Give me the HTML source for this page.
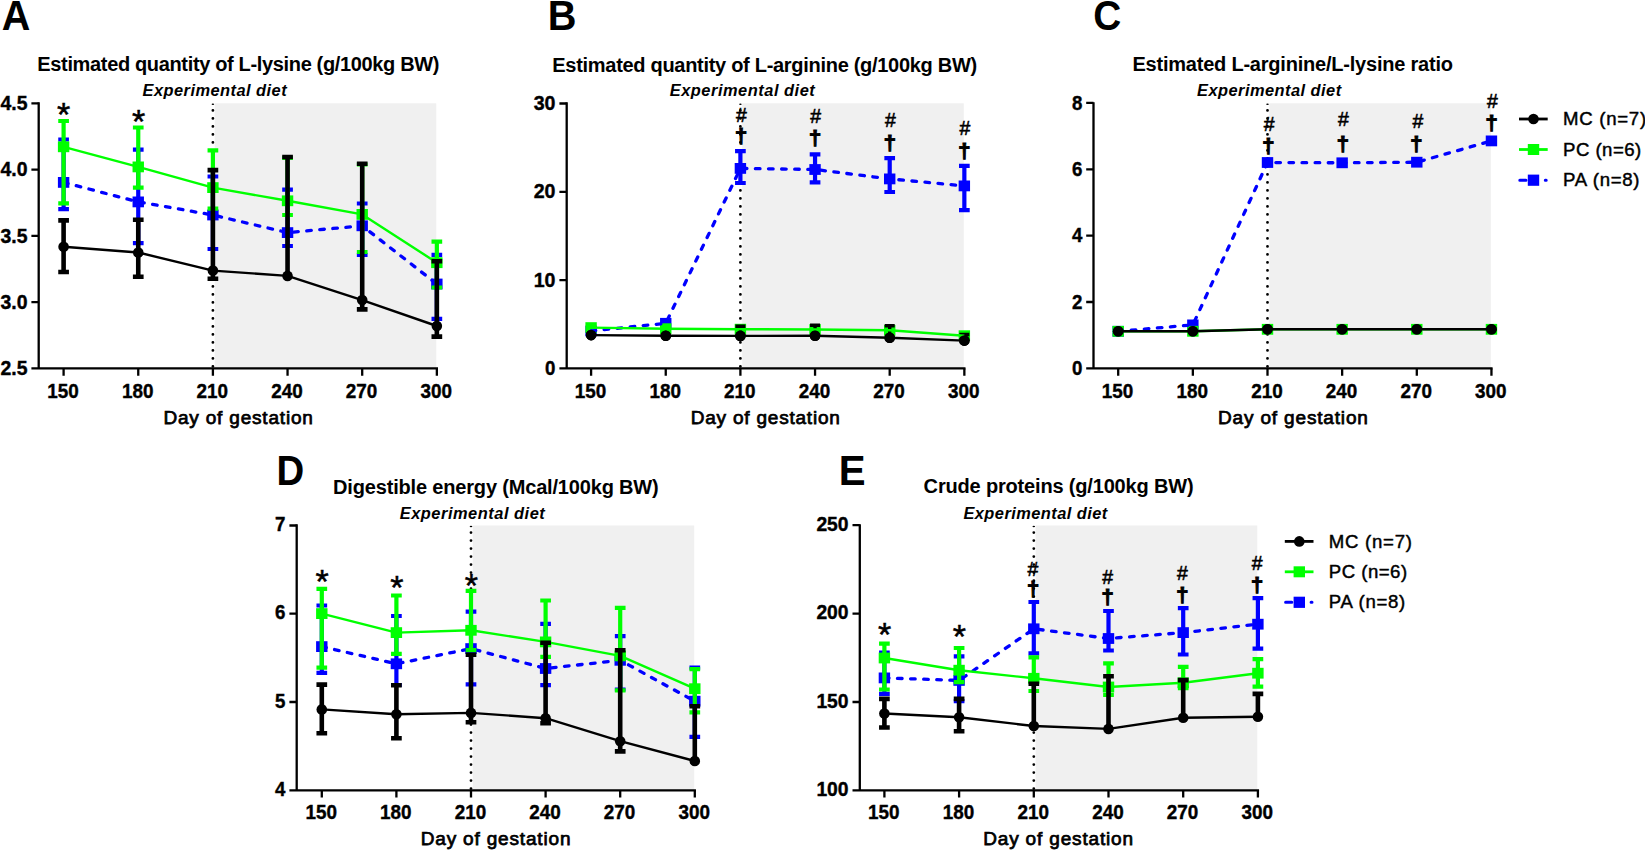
<!DOCTYPE html>
<html lang="en"><head><meta charset="utf-8"><title>Figure</title>
<style>
html,body{margin:0;padding:0;background:#fff;}
body{width:1645px;height:850px;overflow:hidden;}
svg{display:block;font-family:"Liberation Sans", Arial, Helvetica, sans-serif;}
</style></head><body>
<svg width="1645" height="850" viewBox="0 0 1645 850">
<rect width="1645" height="850" fill="#ffffff"/>
<rect x="214.70" y="103.30" width="221.55" height="265.10" fill="#f0f0f0"/>
<path d="M212.90 110.40V368.40" stroke="#000" stroke-width="2.8" stroke-dasharray="0.01 7.99" stroke-linecap="round" fill="none"/>
<ellipse cx="212.90" cy="104.30" rx="1.3" ry="0.8" fill="#000"/>
<text x="1.75" y="29.90" font-size="42" font-weight="bold" textLength="28.60" lengthAdjust="spacingAndGlyphs">A</text>
<text x="37.30" y="71.20" font-size="20" font-weight="bold" textLength="402.20" lengthAdjust="spacing">Estimated quantity of L-lysine (g/100kg BW)</text>
<text x="142.50" y="96.30" font-size="16.4" font-weight="bold" font-style="italic" textLength="144.10" lengthAdjust="spacing">Experimental diet</text>
<text x="163.40" y="423.60" font-size="19" font-weight="normal" textLength="149.50" lengthAdjust="spacing" stroke="#000" stroke-width="0.75">Day of gestation</text>
<polyline points="63.60,182.40 138.25,201.90 212.90,215.00 287.55,232.60 362.20,225.80 436.85,284.00" stroke="#0000ff" stroke-width="3.3" stroke-dasharray="4.6 8.5" stroke-linecap="round" stroke-linejoin="round" fill="none"/>
<path d="M63.60 139.50V209.20M58.25 139.50H68.95M58.25 209.20H68.95" stroke="#0000ff" stroke-width="4.2" fill="none"/>
<path d="M138.25 149.70V243.20M132.90 149.70H143.60M132.90 243.20H143.60" stroke="#0000ff" stroke-width="4.2" fill="none"/>
<path d="M212.90 176.50V249.00M207.55 176.50H218.25M207.55 249.00H218.25" stroke="#0000ff" stroke-width="4.2" fill="none"/>
<path d="M287.55 189.60V246.00M282.20 189.60H292.90M282.20 246.00H292.90" stroke="#0000ff" stroke-width="4.2" fill="none"/>
<path d="M362.20 203.50V255.00M356.85 203.50H367.55M356.85 255.00H367.55" stroke="#0000ff" stroke-width="4.2" fill="none"/>
<path d="M436.85 254.90V318.80M431.50 254.90H442.20M431.50 318.80H442.20" stroke="#0000ff" stroke-width="4.2" fill="none"/>
<rect x="57.90" y="177.00" width="11.4" height="10.8" fill="#0000ff"/>
<rect x="132.55" y="196.50" width="11.4" height="10.8" fill="#0000ff"/>
<rect x="207.20" y="209.60" width="11.4" height="10.8" fill="#0000ff"/>
<rect x="281.85" y="227.20" width="11.4" height="10.8" fill="#0000ff"/>
<rect x="356.50" y="220.40" width="11.4" height="10.8" fill="#0000ff"/>
<rect x="431.15" y="278.60" width="11.4" height="10.8" fill="#0000ff"/>
<polyline points="63.60,146.80 138.25,166.90 212.90,187.60 287.55,200.80 362.20,214.40 436.85,262.70" stroke="#00ff00" stroke-width="2.4" stroke-linejoin="round" fill="none"/>
<path d="M63.60 121.00V203.40M58.25 121.00H68.95M58.25 203.40H68.95" stroke="#00ff00" stroke-width="4.2" fill="none"/>
<path d="M138.25 127.50V187.60M132.90 127.50H143.60M132.90 187.60H143.60" stroke="#00ff00" stroke-width="4.2" fill="none"/>
<path d="M212.90 150.30V208.60M207.55 150.30H218.25M207.55 208.60H218.25" stroke="#00ff00" stroke-width="4.2" fill="none"/>
<path d="M287.55 158.00V215.00M282.20 158.00H292.90M282.20 215.00H292.90" stroke="#00ff00" stroke-width="4.2" fill="none"/>
<path d="M362.20 164.50V252.00M356.85 164.50H367.55M356.85 252.00H367.55" stroke="#00ff00" stroke-width="4.2" fill="none"/>
<path d="M436.85 241.70V287.50M431.50 241.70H442.20M431.50 287.50H442.20" stroke="#00ff00" stroke-width="4.2" fill="none"/>
<rect x="57.90" y="141.40" width="11.4" height="10.8" fill="#00ff00"/>
<rect x="132.55" y="161.50" width="11.4" height="10.8" fill="#00ff00"/>
<rect x="207.20" y="182.20" width="11.4" height="10.8" fill="#00ff00"/>
<rect x="281.85" y="195.40" width="11.4" height="10.8" fill="#00ff00"/>
<rect x="356.50" y="209.00" width="11.4" height="10.8" fill="#00ff00"/>
<rect x="431.15" y="257.30" width="11.4" height="10.8" fill="#00ff00"/>
<polyline points="63.60,246.70 138.25,252.50 212.90,270.60 287.55,275.90 362.20,300.10 436.85,326.00" stroke="#000000" stroke-width="2.4" stroke-linejoin="round" fill="none"/>
<path d="M63.60 220.40V272.00M58.25 220.40H68.95M58.25 272.00H68.95" stroke="#000000" stroke-width="4.6" fill="none"/>
<path d="M138.25 219.80V276.70M132.90 219.80H143.60M132.90 276.70H143.60" stroke="#000000" stroke-width="4.6" fill="none"/>
<path d="M212.90 170.10V278.80M207.55 170.10H218.25M207.55 278.80H218.25" stroke="#000000" stroke-width="4.6" fill="none"/>
<path d="M287.55 157.00V275.90M282.20 157.00H292.90" stroke="#000000" stroke-width="4.6" fill="none"/>
<path d="M362.20 163.70V309.40M356.85 163.70H367.55M356.85 309.40H367.55" stroke="#000000" stroke-width="4.6" fill="none"/>
<path d="M436.85 261.30V336.60M431.50 261.30H442.20M431.50 336.60H442.20" stroke="#000000" stroke-width="4.6" fill="none"/>
<circle cx="63.60" cy="246.70" r="5.3" fill="#000000"/>
<circle cx="138.25" cy="252.50" r="5.3" fill="#000000"/>
<circle cx="212.90" cy="270.60" r="5.3" fill="#000000"/>
<circle cx="287.55" cy="275.90" r="5.3" fill="#000000"/>
<circle cx="362.20" cy="300.10" r="5.3" fill="#000000"/>
<circle cx="436.85" cy="326.00" r="5.3" fill="#000000"/>
<path d="M38.70 102.15V368.40M31.40 368.40H438.00" stroke="#000" stroke-width="2.3" fill="none"/>
<path d="M31.40 103.30H38.70M31.40 169.60H38.70M31.40 235.90H38.70M31.40 302.10H38.70M63.60 368.40V375.70M138.25 368.40V375.70M212.90 368.40V375.70M287.55 368.40V375.70M362.20 368.40V375.70M436.85 368.40V375.70" stroke="#000" stroke-width="2.3" fill="none"/>
<text x="27.50" y="109.90" font-size="20.5" font-weight="bold" text-anchor="end" textLength="27.00" lengthAdjust="spacingAndGlyphs" stroke="#000" stroke-width="0.4">4.5</text>
<text x="27.50" y="176.20" font-size="20.5" font-weight="bold" text-anchor="end" textLength="27.00" lengthAdjust="spacingAndGlyphs" stroke="#000" stroke-width="0.4">4.0</text>
<text x="27.50" y="242.50" font-size="20.5" font-weight="bold" text-anchor="end" textLength="27.00" lengthAdjust="spacingAndGlyphs" stroke="#000" stroke-width="0.4">3.5</text>
<text x="27.50" y="308.70" font-size="20.5" font-weight="bold" text-anchor="end" textLength="27.00" lengthAdjust="spacingAndGlyphs" stroke="#000" stroke-width="0.4">3.0</text>
<text x="27.50" y="375.00" font-size="20.5" font-weight="bold" text-anchor="end" textLength="27.00" lengthAdjust="spacingAndGlyphs" stroke="#000" stroke-width="0.4">2.5</text>
<text x="63.00" y="397.60" font-size="20.5" font-weight="bold" text-anchor="middle" textLength="31.50" lengthAdjust="spacingAndGlyphs" stroke="#000" stroke-width="0.4">150</text>
<text x="137.65" y="397.60" font-size="20.5" font-weight="bold" text-anchor="middle" textLength="31.50" lengthAdjust="spacingAndGlyphs" stroke="#000" stroke-width="0.4">180</text>
<text x="212.30" y="397.60" font-size="20.5" font-weight="bold" text-anchor="middle" textLength="31.50" lengthAdjust="spacingAndGlyphs" stroke="#000" stroke-width="0.4">210</text>
<text x="286.95" y="397.60" font-size="20.5" font-weight="bold" text-anchor="middle" textLength="31.50" lengthAdjust="spacingAndGlyphs" stroke="#000" stroke-width="0.4">240</text>
<text x="361.60" y="397.60" font-size="20.5" font-weight="bold" text-anchor="middle" textLength="31.50" lengthAdjust="spacingAndGlyphs" stroke="#000" stroke-width="0.4">270</text>
<text x="436.25" y="397.60" font-size="20.5" font-weight="bold" text-anchor="middle" textLength="31.50" lengthAdjust="spacingAndGlyphs" stroke="#000" stroke-width="0.4">300</text>
<text x="63.70" y="125.65" font-size="34" font-weight="normal" text-anchor="middle" stroke="#000" stroke-width="0.5">*</text>
<text x="138.60" y="133.45" font-size="34" font-weight="normal" text-anchor="middle" stroke="#000" stroke-width="0.5">*</text>
<rect x="742.20" y="103.30" width="221.55" height="265.10" fill="#f0f0f0"/>
<path d="M740.40 110.40V368.40" stroke="#000" stroke-width="2.8" stroke-dasharray="0.01 7.99" stroke-linecap="round" fill="none"/>
<ellipse cx="740.40" cy="104.30" rx="1.3" ry="0.8" fill="#000"/>
<text x="547.70" y="29.90" font-size="42" font-weight="bold" textLength="28.70" lengthAdjust="spacingAndGlyphs">B</text>
<text x="552.30" y="72.00" font-size="20" font-weight="bold" textLength="424.90" lengthAdjust="spacing">Estimated quantity of L-arginine (g/100kg BW)</text>
<text x="669.70" y="96.30" font-size="16.4" font-weight="bold" font-style="italic" textLength="145.10" lengthAdjust="spacing">Experimental diet</text>
<text x="690.70" y="423.60" font-size="19" font-weight="normal" textLength="149.20" lengthAdjust="spacing" stroke="#000" stroke-width="0.75">Day of gestation</text>
<path d="M740.40 151.20V183.00M735.05 151.20H745.75M735.05 183.00H745.75" stroke="#0000ff" stroke-width="4.2" fill="none"/>
<path d="M815.05 154.30V182.40M809.70 154.30H820.40M809.70 182.40H820.40" stroke="#0000ff" stroke-width="4.2" fill="none"/>
<path d="M889.70 158.20V192.00M884.35 158.20H895.05M884.35 192.00H895.05" stroke="#0000ff" stroke-width="4.2" fill="none"/>
<path d="M964.35 165.80V210.10M959.00 165.80H969.70M959.00 210.10H969.70" stroke="#0000ff" stroke-width="4.2" fill="none"/>
<rect x="585.40" y="325.60" width="11.4" height="10.8" fill="#0000ff"/>
<rect x="660.05" y="317.90" width="11.4" height="10.8" fill="#0000ff"/>
<rect x="734.70" y="163.00" width="11.4" height="10.8" fill="#0000ff"/>
<rect x="809.35" y="164.10" width="11.4" height="10.8" fill="#0000ff"/>
<rect x="884.00" y="173.50" width="11.4" height="10.8" fill="#0000ff"/>
<rect x="958.65" y="180.50" width="11.4" height="10.8" fill="#0000ff"/>
<rect x="585.40" y="322.20" width="11.4" height="10.8" fill="#00ff00"/>
<rect x="660.05" y="323.30" width="11.4" height="10.8" fill="#00ff00"/>
<rect x="734.70" y="323.80" width="11.4" height="10.8" fill="#00ff00"/>
<rect x="809.35" y="324.10" width="11.4" height="10.8" fill="#00ff00"/>
<rect x="884.00" y="324.90" width="11.4" height="10.8" fill="#00ff00"/>
<rect x="958.65" y="330.30" width="11.4" height="10.8" fill="#00ff00"/>
<path d="M740.40 326.20V335.90M735.40 326.20H745.40" stroke="#000000" stroke-width="3.4" fill="none"/>
<path d="M815.05 325.20V335.70M810.05 325.20H820.05" stroke="#000000" stroke-width="3.4" fill="none"/>
<path d="M889.70 325.80V337.70M884.70 325.80H894.70" stroke="#000000" stroke-width="3.4" fill="none"/>
<path d="M964.35 334.50V340.60M959.35 334.50H969.35" stroke="#000000" stroke-width="3.4" fill="none"/>
<circle cx="591.10" cy="335.10" r="5.3" fill="#000000"/>
<circle cx="665.75" cy="335.70" r="5.3" fill="#000000"/>
<circle cx="740.40" cy="335.90" r="5.3" fill="#000000"/>
<circle cx="815.05" cy="335.70" r="5.3" fill="#000000"/>
<circle cx="889.70" cy="337.70" r="5.3" fill="#000000"/>
<circle cx="964.35" cy="340.60" r="5.3" fill="#000000"/>
<polyline points="591.10,331.00 665.75,323.30 740.40,168.40 815.05,169.50 889.70,178.90 964.35,185.90" stroke="#0000ff" stroke-width="3.3" stroke-dasharray="4.6 8.5" stroke-linecap="round" stroke-linejoin="round" fill="none"/>
<polyline points="591.10,327.60 665.75,328.70 740.40,329.20 815.05,329.50 889.70,330.30 964.35,335.70" stroke="#00ff00" stroke-width="2.4" stroke-linejoin="round" fill="none"/>
<polyline points="591.10,335.10 665.75,335.70 740.40,335.90 815.05,335.70 889.70,337.70 964.35,340.60" stroke="#000000" stroke-width="2.4" stroke-linejoin="round" fill="none"/>
<circle cx="591.10" cy="335.10" r="5.3" fill="#000000"/>
<circle cx="665.75" cy="335.70" r="5.3" fill="#000000"/>
<circle cx="740.40" cy="335.90" r="5.3" fill="#000000"/>
<circle cx="815.05" cy="335.70" r="5.3" fill="#000000"/>
<circle cx="889.70" cy="337.70" r="5.3" fill="#000000"/>
<circle cx="964.35" cy="340.60" r="5.3" fill="#000000"/>
<path d="M566.70 102.15V368.40M559.40 368.40H965.50" stroke="#000" stroke-width="2.3" fill="none"/>
<path d="M559.40 103.50H566.70M559.40 191.80H566.70M559.40 280.10H566.70M591.10 368.40V375.70M665.75 368.40V375.70M740.40 368.40V375.70M815.05 368.40V375.70M889.70 368.40V375.70M964.35 368.40V375.70" stroke="#000" stroke-width="2.3" fill="none"/>
<text x="555.50" y="110.10" font-size="20.5" font-weight="bold" text-anchor="end" textLength="21.80" lengthAdjust="spacingAndGlyphs" stroke="#000" stroke-width="0.4">30</text>
<text x="555.50" y="198.40" font-size="20.5" font-weight="bold" text-anchor="end" textLength="21.80" lengthAdjust="spacingAndGlyphs" stroke="#000" stroke-width="0.4">20</text>
<text x="555.50" y="286.70" font-size="20.5" font-weight="bold" text-anchor="end" textLength="21.80" lengthAdjust="spacingAndGlyphs" stroke="#000" stroke-width="0.4">10</text>
<text x="555.50" y="375.00" font-size="20.5" font-weight="bold" text-anchor="end" textLength="10.40" lengthAdjust="spacingAndGlyphs" stroke="#000" stroke-width="0.4">0</text>
<text x="590.50" y="397.60" font-size="20.5" font-weight="bold" text-anchor="middle" textLength="31.50" lengthAdjust="spacingAndGlyphs" stroke="#000" stroke-width="0.4">150</text>
<text x="665.15" y="397.60" font-size="20.5" font-weight="bold" text-anchor="middle" textLength="31.50" lengthAdjust="spacingAndGlyphs" stroke="#000" stroke-width="0.4">180</text>
<text x="739.80" y="397.60" font-size="20.5" font-weight="bold" text-anchor="middle" textLength="31.50" lengthAdjust="spacingAndGlyphs" stroke="#000" stroke-width="0.4">210</text>
<text x="814.45" y="397.60" font-size="20.5" font-weight="bold" text-anchor="middle" textLength="31.50" lengthAdjust="spacingAndGlyphs" stroke="#000" stroke-width="0.4">240</text>
<text x="889.10" y="397.60" font-size="20.5" font-weight="bold" text-anchor="middle" textLength="31.50" lengthAdjust="spacingAndGlyphs" stroke="#000" stroke-width="0.4">270</text>
<text x="963.75" y="397.60" font-size="20.5" font-weight="bold" text-anchor="middle" textLength="31.50" lengthAdjust="spacingAndGlyphs" stroke="#000" stroke-width="0.4">300</text>
<text x="741.50" y="122.20" font-size="21" font-weight="normal" text-anchor="middle" textLength="10.80" lengthAdjust="spacingAndGlyphs" stroke="#000" stroke-width="0.6">#</text>
<text x="741.00" y="143.00" font-size="20.4" font-weight="bold" text-anchor="middle" textLength="12.70" lengthAdjust="spacingAndGlyphs" stroke="#000" stroke-width="0.9">†</text>
<text x="815.70" y="123.20" font-size="21" font-weight="normal" text-anchor="middle" textLength="10.80" lengthAdjust="spacingAndGlyphs" stroke="#000" stroke-width="0.6">#</text>
<text x="815.20" y="144.90" font-size="20.4" font-weight="bold" text-anchor="middle" textLength="12.70" lengthAdjust="spacingAndGlyphs" stroke="#000" stroke-width="0.9">†</text>
<text x="890.40" y="127.00" font-size="21" font-weight="normal" text-anchor="middle" textLength="10.80" lengthAdjust="spacingAndGlyphs" stroke="#000" stroke-width="0.6">#</text>
<text x="889.90" y="149.70" font-size="20.4" font-weight="bold" text-anchor="middle" textLength="12.70" lengthAdjust="spacingAndGlyphs" stroke="#000" stroke-width="0.9">†</text>
<text x="964.80" y="135.30" font-size="21" font-weight="normal" text-anchor="middle" textLength="10.80" lengthAdjust="spacingAndGlyphs" stroke="#000" stroke-width="0.6">#</text>
<text x="964.30" y="158.10" font-size="20.4" font-weight="bold" text-anchor="middle" textLength="12.70" lengthAdjust="spacingAndGlyphs" stroke="#000" stroke-width="0.9">†</text>
<rect x="1269.30" y="103.30" width="221.55" height="265.10" fill="#f0f0f0"/>
<path d="M1267.50 110.40V368.40" stroke="#000" stroke-width="2.8" stroke-dasharray="0.01 7.99" stroke-linecap="round" fill="none"/>
<ellipse cx="1267.50" cy="104.30" rx="1.3" ry="0.8" fill="#000"/>
<text x="1093.30" y="29.90" font-size="42" font-weight="bold" textLength="28.00" lengthAdjust="spacingAndGlyphs">C</text>
<text x="1132.40" y="70.90" font-size="20" font-weight="bold" textLength="320.60" lengthAdjust="spacing">Estimated L-arginine/L-lysine ratio</text>
<text x="1197.10" y="96.30" font-size="16.4" font-weight="bold" font-style="italic" textLength="144.00" lengthAdjust="spacing">Experimental diet</text>
<text x="1218.00" y="423.60" font-size="19" font-weight="normal" textLength="149.90" lengthAdjust="spacing" stroke="#000" stroke-width="0.75">Day of gestation</text>
<rect x="1112.50" y="325.90" width="11.4" height="10.8" fill="#0000ff"/>
<rect x="1187.15" y="319.50" width="11.4" height="10.8" fill="#0000ff"/>
<rect x="1261.80" y="157.10" width="11.4" height="10.8" fill="#0000ff"/>
<rect x="1336.45" y="157.40" width="11.4" height="10.8" fill="#0000ff"/>
<rect x="1411.10" y="156.80" width="11.4" height="10.8" fill="#0000ff"/>
<rect x="1485.75" y="135.50" width="11.4" height="10.8" fill="#0000ff"/>
<rect x="1112.50" y="325.90" width="11.4" height="10.8" fill="#00ff00"/>
<rect x="1187.15" y="325.90" width="11.4" height="10.8" fill="#00ff00"/>
<rect x="1261.80" y="323.90" width="11.4" height="10.8" fill="#00ff00"/>
<rect x="1336.45" y="323.90" width="11.4" height="10.8" fill="#00ff00"/>
<rect x="1411.10" y="323.90" width="11.4" height="10.8" fill="#00ff00"/>
<rect x="1485.75" y="323.90" width="11.4" height="10.8" fill="#00ff00"/>
<circle cx="1118.20" cy="331.30" r="5.3" fill="#000000"/>
<circle cx="1192.85" cy="331.30" r="5.3" fill="#000000"/>
<circle cx="1267.50" cy="329.30" r="5.3" fill="#000000"/>
<circle cx="1342.15" cy="329.30" r="5.3" fill="#000000"/>
<circle cx="1416.80" cy="329.30" r="5.3" fill="#000000"/>
<circle cx="1491.45" cy="329.30" r="5.3" fill="#000000"/>
<polyline points="1118.20,331.30 1192.85,324.90 1267.50,162.50 1342.15,162.80 1416.80,162.20 1491.45,140.90" stroke="#0000ff" stroke-width="3.3" stroke-dasharray="4.6 8.5" stroke-linecap="round" stroke-linejoin="round" fill="none"/>
<polyline points="1118.20,331.30 1192.85,331.30 1267.50,329.30 1342.15,329.30 1416.80,329.30 1491.45,329.30" stroke="#00ff00" stroke-width="2.4" stroke-linejoin="round" fill="none"/>
<polyline points="1118.20,331.30 1192.85,331.30 1267.50,329.30 1342.15,329.30 1416.80,329.30 1491.45,329.30" stroke="#000000" stroke-width="2.4" stroke-linejoin="round" fill="none"/>
<circle cx="1118.20" cy="331.30" r="5.3" fill="#000000"/>
<circle cx="1192.85" cy="331.30" r="5.3" fill="#000000"/>
<circle cx="1267.50" cy="329.30" r="5.3" fill="#000000"/>
<circle cx="1342.15" cy="329.30" r="5.3" fill="#000000"/>
<circle cx="1416.80" cy="329.30" r="5.3" fill="#000000"/>
<circle cx="1491.45" cy="329.30" r="5.3" fill="#000000"/>
<path d="M1093.50 102.15V368.40M1086.20 368.40H1492.60" stroke="#000" stroke-width="2.3" fill="none"/>
<path d="M1086.20 102.90H1093.50M1086.20 169.30H1093.50M1086.20 235.60H1093.50M1086.20 302.00H1093.50M1118.20 368.40V375.70M1192.85 368.40V375.70M1267.50 368.40V375.70M1342.15 368.40V375.70M1416.80 368.40V375.70M1491.45 368.40V375.70" stroke="#000" stroke-width="2.3" fill="none"/>
<text x="1082.30" y="109.50" font-size="20.5" font-weight="bold" text-anchor="end" textLength="10.40" lengthAdjust="spacingAndGlyphs" stroke="#000" stroke-width="0.4">8</text>
<text x="1082.30" y="175.90" font-size="20.5" font-weight="bold" text-anchor="end" textLength="10.40" lengthAdjust="spacingAndGlyphs" stroke="#000" stroke-width="0.4">6</text>
<text x="1082.30" y="242.20" font-size="20.5" font-weight="bold" text-anchor="end" textLength="10.40" lengthAdjust="spacingAndGlyphs" stroke="#000" stroke-width="0.4">4</text>
<text x="1082.30" y="308.60" font-size="20.5" font-weight="bold" text-anchor="end" textLength="10.40" lengthAdjust="spacingAndGlyphs" stroke="#000" stroke-width="0.4">2</text>
<text x="1082.30" y="375.00" font-size="20.5" font-weight="bold" text-anchor="end" textLength="10.40" lengthAdjust="spacingAndGlyphs" stroke="#000" stroke-width="0.4">0</text>
<text x="1117.60" y="397.60" font-size="20.5" font-weight="bold" text-anchor="middle" textLength="31.50" lengthAdjust="spacingAndGlyphs" stroke="#000" stroke-width="0.4">150</text>
<text x="1192.25" y="397.60" font-size="20.5" font-weight="bold" text-anchor="middle" textLength="31.50" lengthAdjust="spacingAndGlyphs" stroke="#000" stroke-width="0.4">180</text>
<text x="1266.90" y="397.60" font-size="20.5" font-weight="bold" text-anchor="middle" textLength="31.50" lengthAdjust="spacingAndGlyphs" stroke="#000" stroke-width="0.4">210</text>
<text x="1341.55" y="397.60" font-size="20.5" font-weight="bold" text-anchor="middle" textLength="31.50" lengthAdjust="spacingAndGlyphs" stroke="#000" stroke-width="0.4">240</text>
<text x="1416.20" y="397.60" font-size="20.5" font-weight="bold" text-anchor="middle" textLength="31.50" lengthAdjust="spacingAndGlyphs" stroke="#000" stroke-width="0.4">270</text>
<text x="1490.85" y="397.60" font-size="20.5" font-weight="bold" text-anchor="middle" textLength="31.50" lengthAdjust="spacingAndGlyphs" stroke="#000" stroke-width="0.4">300</text>
<text x="1269.20" y="131.20" font-size="21" font-weight="normal" text-anchor="middle" textLength="10.80" lengthAdjust="spacingAndGlyphs" stroke="#000" stroke-width="0.6">#</text>
<text x="1268.30" y="153.30" font-size="20.4" font-weight="bold" text-anchor="middle" textLength="12.70" lengthAdjust="spacingAndGlyphs" stroke="#000" stroke-width="0.9">†</text>
<text x="1343.30" y="125.50" font-size="21" font-weight="normal" text-anchor="middle" textLength="10.80" lengthAdjust="spacingAndGlyphs" stroke="#000" stroke-width="0.6">#</text>
<text x="1342.80" y="150.70" font-size="20.4" font-weight="bold" text-anchor="middle" textLength="12.70" lengthAdjust="spacingAndGlyphs" stroke="#000" stroke-width="0.9">†</text>
<text x="1417.90" y="127.90" font-size="21" font-weight="normal" text-anchor="middle" textLength="10.80" lengthAdjust="spacingAndGlyphs" stroke="#000" stroke-width="0.6">#</text>
<text x="1416.40" y="151.30" font-size="20.4" font-weight="bold" text-anchor="middle" textLength="12.70" lengthAdjust="spacingAndGlyphs" stroke="#000" stroke-width="0.9">†</text>
<text x="1492.30" y="108.30" font-size="21" font-weight="normal" text-anchor="middle" textLength="10.80" lengthAdjust="spacingAndGlyphs" stroke="#000" stroke-width="0.6">#</text>
<text x="1491.60" y="130.00" font-size="20.4" font-weight="bold" text-anchor="middle" textLength="12.70" lengthAdjust="spacingAndGlyphs" stroke="#000" stroke-width="0.9">†</text>
<rect x="472.80" y="525.50" width="221.40" height="264.80" fill="#f0f0f0"/>
<path d="M471.00 532.60V790.30" stroke="#000" stroke-width="2.8" stroke-dasharray="0.01 7.99" stroke-linecap="round" fill="none"/>
<ellipse cx="471.00" cy="526.50" rx="1.3" ry="0.8" fill="#000"/>
<text x="276.50" y="484.80" font-size="42" font-weight="bold" textLength="27.70" lengthAdjust="spacingAndGlyphs">D</text>
<text x="333.10" y="493.50" font-size="20" font-weight="bold" textLength="325.60" lengthAdjust="spacing">Digestible energy (Mcal/100kg BW)</text>
<text x="399.70" y="518.50" font-size="16.4" font-weight="bold" font-style="italic" textLength="145.10" lengthAdjust="spacing">Experimental diet</text>
<text x="420.70" y="845.10" font-size="19" font-weight="normal" textLength="149.80" lengthAdjust="spacing" stroke="#000" stroke-width="0.75">Day of gestation</text>
<polyline points="321.80,646.60 396.40,663.80 471.00,648.60 545.60,668.50 620.20,660.30 694.80,701.20" stroke="#0000ff" stroke-width="3.3" stroke-dasharray="4.6 8.5" stroke-linecap="round" stroke-linejoin="round" fill="none"/>
<path d="M321.80 605.50V672.90M316.45 605.50H327.15M316.45 672.90H327.15" stroke="#0000ff" stroke-width="4.2" fill="none"/>
<path d="M396.40 616.00V685.00M391.05 616.00H401.75M391.05 685.00H401.75" stroke="#0000ff" stroke-width="4.2" fill="none"/>
<path d="M471.00 611.60V684.30M465.65 611.60H476.35M465.65 684.30H476.35" stroke="#0000ff" stroke-width="4.2" fill="none"/>
<path d="M545.60 623.80V685.20M540.25 623.80H550.95M540.25 685.20H550.95" stroke="#0000ff" stroke-width="4.2" fill="none"/>
<path d="M620.20 636.10V689.50M614.85 636.10H625.55M614.85 689.50H625.55" stroke="#0000ff" stroke-width="4.2" fill="none"/>
<path d="M694.80 667.70V736.80M689.45 667.70H700.15M689.45 736.80H700.15" stroke="#0000ff" stroke-width="4.2" fill="none"/>
<rect x="316.10" y="641.20" width="11.4" height="10.8" fill="#0000ff"/>
<rect x="390.70" y="658.40" width="11.4" height="10.8" fill="#0000ff"/>
<rect x="465.30" y="643.20" width="11.4" height="10.8" fill="#0000ff"/>
<rect x="539.90" y="663.10" width="11.4" height="10.8" fill="#0000ff"/>
<rect x="614.50" y="654.90" width="11.4" height="10.8" fill="#0000ff"/>
<rect x="689.10" y="695.80" width="11.4" height="10.8" fill="#0000ff"/>
<polyline points="321.80,613.60 396.40,632.60 471.00,630.30 545.60,641.90 620.20,655.90 694.80,688.70" stroke="#00ff00" stroke-width="2.4" stroke-linejoin="round" fill="none"/>
<path d="M321.80 588.80V667.60M316.45 588.80H327.15M316.45 667.60H327.15" stroke="#00ff00" stroke-width="4.2" fill="none"/>
<path d="M396.40 595.50V653.90M391.05 595.50H401.75M391.05 653.90H401.75" stroke="#00ff00" stroke-width="4.2" fill="none"/>
<path d="M471.00 590.90V650.10M465.65 590.90H476.35M465.65 650.10H476.35" stroke="#00ff00" stroke-width="4.2" fill="none"/>
<path d="M545.60 600.50V656.90M540.25 600.50H550.95M540.25 656.90H550.95" stroke="#00ff00" stroke-width="4.2" fill="none"/>
<path d="M620.20 607.80V690.40M614.85 607.80H625.55M614.85 690.40H625.55" stroke="#00ff00" stroke-width="4.2" fill="none"/>
<path d="M694.80 669.10V712.30M689.45 669.10H700.15M689.45 712.30H700.15" stroke="#00ff00" stroke-width="4.2" fill="none"/>
<rect x="316.10" y="608.20" width="11.4" height="10.8" fill="#00ff00"/>
<rect x="390.70" y="627.20" width="11.4" height="10.8" fill="#00ff00"/>
<rect x="465.30" y="624.90" width="11.4" height="10.8" fill="#00ff00"/>
<rect x="539.90" y="636.50" width="11.4" height="10.8" fill="#00ff00"/>
<rect x="614.50" y="650.50" width="11.4" height="10.8" fill="#00ff00"/>
<rect x="689.10" y="683.30" width="11.4" height="10.8" fill="#00ff00"/>
<polyline points="321.80,709.40 396.40,714.30 471.00,712.90 545.60,718.20 620.20,741.20 694.80,761.00" stroke="#000000" stroke-width="2.4" stroke-linejoin="round" fill="none"/>
<path d="M321.80 684.60V733.30M316.45 684.60H327.15M316.45 733.30H327.15" stroke="#000000" stroke-width="4.6" fill="none"/>
<path d="M396.40 685.20V738.30M391.05 685.20H401.75M391.05 738.30H401.75" stroke="#000000" stroke-width="4.6" fill="none"/>
<path d="M471.00 654.80V722.20M465.65 654.80H476.35M465.65 722.20H476.35" stroke="#000000" stroke-width="4.6" fill="none"/>
<path d="M545.60 642.80V723.30M540.25 642.80H550.95M540.25 723.30H550.95" stroke="#000000" stroke-width="4.6" fill="none"/>
<path d="M620.20 650.20V751.40M614.85 650.20H625.55M614.85 751.40H625.55" stroke="#000000" stroke-width="4.6" fill="none"/>
<path d="M694.80 706.20V761.00M689.45 706.20H700.15" stroke="#000000" stroke-width="4.6" fill="none"/>
<circle cx="321.80" cy="709.40" r="5.3" fill="#000000"/>
<circle cx="396.40" cy="714.30" r="5.3" fill="#000000"/>
<circle cx="471.00" cy="712.90" r="5.3" fill="#000000"/>
<circle cx="545.60" cy="718.20" r="5.3" fill="#000000"/>
<circle cx="620.20" cy="741.20" r="5.3" fill="#000000"/>
<circle cx="694.80" cy="761.00" r="5.3" fill="#000000"/>
<path d="M296.70 524.35V790.30M289.40 790.30H695.95" stroke="#000" stroke-width="2.3" fill="none"/>
<path d="M289.40 525.50H296.70M289.40 613.70H296.70M289.40 702.00H296.70M321.80 790.30V797.60M396.40 790.30V797.60M471.00 790.30V797.60M545.60 790.30V797.60M620.20 790.30V797.60M694.80 790.30V797.60" stroke="#000" stroke-width="2.3" fill="none"/>
<text x="285.50" y="531.20" font-size="20.5" font-weight="bold" text-anchor="end" textLength="10.40" lengthAdjust="spacingAndGlyphs" stroke="#000" stroke-width="0.4">7</text>
<text x="285.50" y="619.40" font-size="20.5" font-weight="bold" text-anchor="end" textLength="10.40" lengthAdjust="spacingAndGlyphs" stroke="#000" stroke-width="0.4">6</text>
<text x="285.50" y="707.70" font-size="20.5" font-weight="bold" text-anchor="end" textLength="10.40" lengthAdjust="spacingAndGlyphs" stroke="#000" stroke-width="0.4">5</text>
<text x="285.50" y="796.00" font-size="20.5" font-weight="bold" text-anchor="end" textLength="10.40" lengthAdjust="spacingAndGlyphs" stroke="#000" stroke-width="0.4">4</text>
<text x="321.20" y="819.40" font-size="20.5" font-weight="bold" text-anchor="middle" textLength="31.50" lengthAdjust="spacingAndGlyphs" stroke="#000" stroke-width="0.4">150</text>
<text x="395.80" y="819.40" font-size="20.5" font-weight="bold" text-anchor="middle" textLength="31.50" lengthAdjust="spacingAndGlyphs" stroke="#000" stroke-width="0.4">180</text>
<text x="470.40" y="819.40" font-size="20.5" font-weight="bold" text-anchor="middle" textLength="31.50" lengthAdjust="spacingAndGlyphs" stroke="#000" stroke-width="0.4">210</text>
<text x="545.00" y="819.40" font-size="20.5" font-weight="bold" text-anchor="middle" textLength="31.50" lengthAdjust="spacingAndGlyphs" stroke="#000" stroke-width="0.4">240</text>
<text x="619.60" y="819.40" font-size="20.5" font-weight="bold" text-anchor="middle" textLength="31.50" lengthAdjust="spacingAndGlyphs" stroke="#000" stroke-width="0.4">270</text>
<text x="694.20" y="819.40" font-size="20.5" font-weight="bold" text-anchor="middle" textLength="31.50" lengthAdjust="spacingAndGlyphs" stroke="#000" stroke-width="0.4">300</text>
<text x="322.00" y="593.15" font-size="34" font-weight="normal" text-anchor="middle" stroke="#000" stroke-width="0.5">*</text>
<text x="396.80" y="599.05" font-size="34" font-weight="normal" text-anchor="middle" stroke="#000" stroke-width="0.5">*</text>
<text x="471.30" y="597.15" font-size="34" font-weight="normal" text-anchor="middle" stroke="#000" stroke-width="0.5">*</text>
<rect x="1035.60" y="525.50" width="221.70" height="264.80" fill="#f0f0f0"/>
<path d="M1033.80 532.60V790.30" stroke="#000" stroke-width="2.8" stroke-dasharray="0.01 7.99" stroke-linecap="round" fill="none"/>
<ellipse cx="1033.80" cy="526.50" rx="1.3" ry="0.8" fill="#000"/>
<text x="838.80" y="484.90" font-size="42" font-weight="bold" textLength="26.80" lengthAdjust="spacingAndGlyphs">E</text>
<text x="923.60" y="492.70" font-size="20" font-weight="bold" textLength="270.00" lengthAdjust="spacing">Crude proteins (g/100kg BW)</text>
<text x="963.40" y="518.50" font-size="16.4" font-weight="bold" font-style="italic" textLength="143.90" lengthAdjust="spacing">Experimental diet</text>
<text x="983.20" y="845.10" font-size="19" font-weight="normal" textLength="149.90" lengthAdjust="spacing" stroke="#000" stroke-width="0.75">Day of gestation</text>
<polyline points="884.40,677.90 959.10,680.40 1033.80,628.80 1108.50,638.50 1183.20,632.60 1257.90,624.20" stroke="#0000ff" stroke-width="3.3" stroke-dasharray="4.6 8.5" stroke-linecap="round" stroke-linejoin="round" fill="none"/>
<path d="M884.40 652.70V693.90M879.05 652.70H889.75M879.05 693.90H889.75" stroke="#0000ff" stroke-width="4.2" fill="none"/>
<path d="M959.10 656.40V701.20M953.75 656.40H964.45M953.75 701.20H964.45" stroke="#0000ff" stroke-width="4.2" fill="none"/>
<path d="M1033.80 602.00V653.30M1028.45 602.00H1039.15M1028.45 653.30H1039.15" stroke="#0000ff" stroke-width="4.2" fill="none"/>
<path d="M1108.50 611.00V650.50M1103.15 611.00H1113.85M1103.15 650.50H1113.85" stroke="#0000ff" stroke-width="4.2" fill="none"/>
<path d="M1183.20 608.10V654.50M1177.85 608.10H1188.55M1177.85 654.50H1188.55" stroke="#0000ff" stroke-width="4.2" fill="none"/>
<path d="M1257.90 598.20V648.70M1252.55 598.20H1263.25M1252.55 648.70H1263.25" stroke="#0000ff" stroke-width="4.2" fill="none"/>
<rect x="878.70" y="672.50" width="11.4" height="10.8" fill="#0000ff"/>
<rect x="953.40" y="675.00" width="11.4" height="10.8" fill="#0000ff"/>
<rect x="1028.10" y="623.40" width="11.4" height="10.8" fill="#0000ff"/>
<rect x="1102.80" y="633.10" width="11.4" height="10.8" fill="#0000ff"/>
<rect x="1177.50" y="627.20" width="11.4" height="10.8" fill="#0000ff"/>
<rect x="1252.20" y="618.80" width="11.4" height="10.8" fill="#0000ff"/>
<polyline points="884.40,658.00 959.10,670.20 1033.80,678.30 1108.50,687.00 1183.20,682.80 1257.90,673.20" stroke="#00ff00" stroke-width="2.4" stroke-linejoin="round" fill="none"/>
<path d="M884.40 643.60V689.50M879.05 643.60H889.75M879.05 689.50H889.75" stroke="#00ff00" stroke-width="4.2" fill="none"/>
<path d="M959.10 648.00V682.20M953.75 648.00H964.45M953.75 682.20H964.45" stroke="#00ff00" stroke-width="4.2" fill="none"/>
<path d="M1033.80 657.40V691.00M1028.45 657.40H1039.15M1028.45 691.00H1039.15" stroke="#00ff00" stroke-width="4.2" fill="none"/>
<path d="M1108.50 663.30V694.80M1103.15 663.30H1113.85M1103.15 694.80H1113.85" stroke="#00ff00" stroke-width="4.2" fill="none"/>
<path d="M1183.20 666.80V688.10M1177.85 666.80H1188.55M1177.85 688.10H1188.55" stroke="#00ff00" stroke-width="4.2" fill="none"/>
<path d="M1257.90 659.20V686.60M1252.55 659.20H1263.25M1252.55 686.60H1263.25" stroke="#00ff00" stroke-width="4.2" fill="none"/>
<rect x="878.70" y="652.60" width="11.4" height="10.8" fill="#00ff00"/>
<rect x="953.40" y="664.80" width="11.4" height="10.8" fill="#00ff00"/>
<rect x="1028.10" y="672.90" width="11.4" height="10.8" fill="#00ff00"/>
<rect x="1102.80" y="681.60" width="11.4" height="10.8" fill="#00ff00"/>
<rect x="1177.50" y="677.40" width="11.4" height="10.8" fill="#00ff00"/>
<rect x="1252.20" y="667.80" width="11.4" height="10.8" fill="#00ff00"/>
<polyline points="884.40,713.50 959.10,717.30 1033.80,726.00 1108.50,728.90 1183.20,717.80 1257.90,716.70" stroke="#000000" stroke-width="2.4" stroke-linejoin="round" fill="none"/>
<path d="M884.40 698.90V727.50M879.05 698.90H889.75M879.05 727.50H889.75" stroke="#000000" stroke-width="4.6" fill="none"/>
<path d="M959.10 698.90V731.30M953.75 698.90H964.45M953.75 731.30H964.45" stroke="#000000" stroke-width="4.6" fill="none"/>
<path d="M1033.80 683.70V726.00M1028.45 683.70H1039.15" stroke="#000000" stroke-width="4.6" fill="none"/>
<path d="M1108.50 676.20V728.90M1103.15 676.20H1113.85" stroke="#000000" stroke-width="4.6" fill="none"/>
<path d="M1183.20 680.10V717.80M1177.85 680.10H1188.55" stroke="#000000" stroke-width="4.6" fill="none"/>
<path d="M1257.90 693.90V716.70M1252.55 693.90H1263.25" stroke="#000000" stroke-width="4.6" fill="none"/>
<circle cx="884.40" cy="713.50" r="5.3" fill="#000000"/>
<circle cx="959.10" cy="717.30" r="5.3" fill="#000000"/>
<circle cx="1033.80" cy="726.00" r="5.3" fill="#000000"/>
<circle cx="1108.50" cy="728.90" r="5.3" fill="#000000"/>
<circle cx="1183.20" cy="717.80" r="5.3" fill="#000000"/>
<circle cx="1257.90" cy="716.70" r="5.3" fill="#000000"/>
<path d="M859.80 524.35V790.30M852.50 790.30H1259.05" stroke="#000" stroke-width="2.3" fill="none"/>
<path d="M852.50 525.20H859.80M852.50 613.60H859.80M852.50 702.00H859.80M884.40 790.30V797.60M959.10 790.30V797.60M1033.80 790.30V797.60M1108.50 790.30V797.60M1183.20 790.30V797.60M1257.90 790.30V797.60" stroke="#000" stroke-width="2.3" fill="none"/>
<text x="848.60" y="530.70" font-size="20.5" font-weight="bold" text-anchor="end" textLength="32.20" lengthAdjust="spacingAndGlyphs" stroke="#000" stroke-width="0.4">250</text>
<text x="848.60" y="619.10" font-size="20.5" font-weight="bold" text-anchor="end" textLength="32.20" lengthAdjust="spacingAndGlyphs" stroke="#000" stroke-width="0.4">200</text>
<text x="848.60" y="707.50" font-size="20.5" font-weight="bold" text-anchor="end" textLength="32.20" lengthAdjust="spacingAndGlyphs" stroke="#000" stroke-width="0.4">150</text>
<text x="848.60" y="795.80" font-size="20.5" font-weight="bold" text-anchor="end" textLength="32.20" lengthAdjust="spacingAndGlyphs" stroke="#000" stroke-width="0.4">100</text>
<text x="883.80" y="819.40" font-size="20.5" font-weight="bold" text-anchor="middle" textLength="31.50" lengthAdjust="spacingAndGlyphs" stroke="#000" stroke-width="0.4">150</text>
<text x="958.50" y="819.40" font-size="20.5" font-weight="bold" text-anchor="middle" textLength="31.50" lengthAdjust="spacingAndGlyphs" stroke="#000" stroke-width="0.4">180</text>
<text x="1033.20" y="819.40" font-size="20.5" font-weight="bold" text-anchor="middle" textLength="31.50" lengthAdjust="spacingAndGlyphs" stroke="#000" stroke-width="0.4">210</text>
<text x="1107.90" y="819.40" font-size="20.5" font-weight="bold" text-anchor="middle" textLength="31.50" lengthAdjust="spacingAndGlyphs" stroke="#000" stroke-width="0.4">240</text>
<text x="1182.60" y="819.40" font-size="20.5" font-weight="bold" text-anchor="middle" textLength="31.50" lengthAdjust="spacingAndGlyphs" stroke="#000" stroke-width="0.4">270</text>
<text x="1257.30" y="819.40" font-size="20.5" font-weight="bold" text-anchor="middle" textLength="31.50" lengthAdjust="spacingAndGlyphs" stroke="#000" stroke-width="0.4">300</text>
<text x="884.70" y="646.45" font-size="34" font-weight="normal" text-anchor="middle" stroke="#000" stroke-width="0.5">*</text>
<text x="959.40" y="648.05" font-size="34" font-weight="normal" text-anchor="middle" stroke="#000" stroke-width="0.5">*</text>
<text x="1032.90" y="575.60" font-size="21" font-weight="normal" text-anchor="middle" textLength="10.80" lengthAdjust="spacingAndGlyphs" stroke="#000" stroke-width="0.6">#</text>
<text x="1033.00" y="595.50" font-size="20.4" font-weight="bold" text-anchor="middle" textLength="12.70" lengthAdjust="spacingAndGlyphs" stroke="#000" stroke-width="0.9">†</text>
<text x="1107.60" y="583.90" font-size="21" font-weight="normal" text-anchor="middle" textLength="10.80" lengthAdjust="spacingAndGlyphs" stroke="#000" stroke-width="0.6">#</text>
<text x="1107.70" y="603.50" font-size="20.4" font-weight="bold" text-anchor="middle" textLength="12.70" lengthAdjust="spacingAndGlyphs" stroke="#000" stroke-width="0.9">†</text>
<text x="1182.30" y="579.70" font-size="21" font-weight="normal" text-anchor="middle" textLength="10.80" lengthAdjust="spacingAndGlyphs" stroke="#000" stroke-width="0.6">#</text>
<text x="1182.40" y="601.80" font-size="20.4" font-weight="bold" text-anchor="middle" textLength="12.70" lengthAdjust="spacingAndGlyphs" stroke="#000" stroke-width="0.9">†</text>
<text x="1257.10" y="570.00" font-size="21" font-weight="normal" text-anchor="middle" textLength="10.80" lengthAdjust="spacingAndGlyphs" stroke="#000" stroke-width="0.6">#</text>
<text x="1257.20" y="591.60" font-size="20.4" font-weight="bold" text-anchor="middle" textLength="12.70" lengthAdjust="spacingAndGlyphs" stroke="#000" stroke-width="0.9">†</text>
<path d="M1519.00 119.00H1547.70" stroke="#000" stroke-width="2.8"/>
<circle cx="1533.50" cy="119.00" r="5.3" fill="#000"/>
<path d="M1519.00 149.50H1547.70" stroke="#00ff00" stroke-width="2.8"/>
<rect x="1527.80" y="144.00" width="11.4" height="11" fill="#00ff00"/>
<path d="M1519.80 180.20H1526.00M1545.30 180.20H1546.20" stroke="#0000ff" stroke-width="3" stroke-linecap="round"/>
<rect x="1527.80" y="174.60" width="11.4" height="11.2" fill="#0000ff"/>
<text x="1563.00" y="125.15" font-size="18.6" font-weight="normal" textLength="83.10" lengthAdjust="spacing" stroke="#000" stroke-width="0.45">MC (n=7)</text>
<text x="1563.00" y="155.65" font-size="18.6" font-weight="normal" textLength="78.30" lengthAdjust="spacing" stroke="#000" stroke-width="0.45">PC (n=6)</text>
<text x="1563.00" y="186.35" font-size="18.6" font-weight="normal" textLength="76.50" lengthAdjust="spacing" stroke="#000" stroke-width="0.45">PA (n=8)</text>
<path d="M1284.80 541.40H1313.50" stroke="#000" stroke-width="2.8"/>
<circle cx="1299.30" cy="541.40" r="5.3" fill="#000"/>
<path d="M1284.80 571.80H1313.50" stroke="#00ff00" stroke-width="2.8"/>
<rect x="1293.60" y="566.30" width="11.4" height="11" fill="#00ff00"/>
<path d="M1285.60 602.30H1291.80M1311.10 602.30H1312.00" stroke="#0000ff" stroke-width="3" stroke-linecap="round"/>
<rect x="1293.60" y="596.70" width="11.4" height="11.2" fill="#0000ff"/>
<text x="1328.80" y="547.55" font-size="18.6" font-weight="normal" textLength="83.10" lengthAdjust="spacing" stroke="#000" stroke-width="0.45">MC (n=7)</text>
<text x="1328.80" y="577.95" font-size="18.6" font-weight="normal" textLength="78.30" lengthAdjust="spacing" stroke="#000" stroke-width="0.45">PC (n=6)</text>
<text x="1328.80" y="608.45" font-size="18.6" font-weight="normal" textLength="76.50" lengthAdjust="spacing" stroke="#000" stroke-width="0.45">PA (n=8)</text>
</svg>
</body></html>
